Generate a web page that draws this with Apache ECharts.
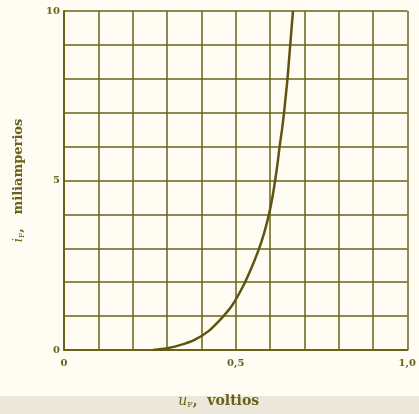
<!DOCTYPE html>
<html><head><meta charset="utf-8">
<script src="https://cdn.jsdelivr.net/npm/echarts@6/dist/echarts.min.js"></script>
<style>html,body{margin:0;padding:0;background:#fffdf3}#c{width:419px;height:414px}</style>
</head><body><div id="c"></div>
<script>
var voltage = [0.26, 0.30, 0.34, 0.38, 0.42, 0.46, 0.49, 0.52, 0.545, 0.565, 0.583, 0.597, 0.607, 0.615, 0.622, 0.628, 0.635, 0.641, 0.646, 0.651, 0.655, 0.659, 0.663, 0.667];
var current = [0, 0.05, 0.15, 0.3, 0.55, 0.95, 1.32, 1.85, 2.4, 2.9, 3.45, 4, 4.5, 5, 5.5, 6, 6.5, 7, 7.5, 8, 8.5, 9, 9.5, 10];
var xTickLabels = {0: '0', 0.5: '0,5', 1: '1,0'};
var yTickLabels = {0: '0', 5: '5', 10: '10'};

var ink = '#6a6218';
var font = '"DejaVu Serif", serif';
var chart = echarts.init(document.getElementById('c'));
var pts = voltage.map(function (v, i) { return [v, current[i]]; });
function rich(sz) {
  return {
    i: {fontFamily: font, fontStyle: 'italic', fontSize: sz, color: ink},
    s: {fontFamily: font, fontSize: 8, color: ink, verticalAlign: 'bottom', padding: [7, 0, 0, 0]},
    t: {fontFamily: font, fontWeight: 'bold', fontSize: sz, color: ink}
  };
}
chart.setOption({
  backgroundColor: '#fffdf3',
  animation: false,
  graphic: [{type: 'rect', shape: {x: 0, y: 396, width: 419, height: 18}, style: {fill: '#ebe7da'}, z: -1}],
  grid: {left: 64, right: 5, top: 11, bottom: 61},
  xAxis: {
    type: 'value', min: 0, max: 1, interval: 0.1,
    name: '{i|u}{s|F}{t|,  voltios}', nameLocation: 'middle', nameGap: 44,
    nameTextStyle: {rich: rich(14), padding: [0, 34, 0, 0]},
    axisLine: {show: true, lineStyle: {color: ink, width: 2}},
    axisTick: {show: false},
    axisLabel: {color: ink, fontFamily: font, fontWeight: 'bold', fontSize: 10, margin: 8,
      formatter: function (v) { var k = Math.round(v * 10) / 10; return xTickLabels[k] !== undefined ? xTickLabels[k] : ''; }},
    splitLine: {show: true, lineStyle: {color: ink, width: 1.5}}
  },
  yAxis: {
    type: 'value', min: 0, max: 10, interval: 1,
    name: '{i|i}{s|F}{t|,   miliamperios}', nameLocation: 'middle', nameGap: 38, nameRotate: 90,
    nameTextStyle: {rich: rich(13)},
    axisLine: {show: true, lineStyle: {color: ink, width: 2}},
    axisTick: {show: false},
    axisLabel: {color: ink, fontFamily: font, fontWeight: 'bold', fontSize: 10, margin: 4,
      formatter: function (v) { return yTickLabels[v] !== undefined ? yTickLabels[v] : ''; }},
    splitLine: {show: true, lineStyle: {color: ink, width: 1.5}}
  },
  series: [{
    type: 'line', data: pts, smooth: 0.3, showSymbol: false,
    lineStyle: {color: '#5f5510', width: 2.5}
  }]
});
</script></body></html>
